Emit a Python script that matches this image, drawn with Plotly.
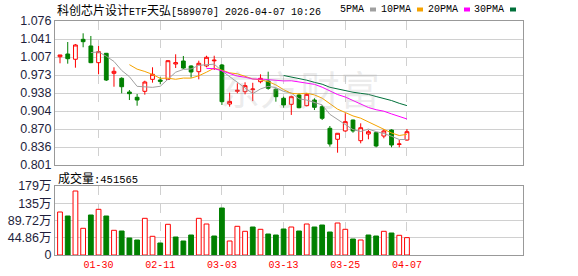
import numpy as np
import pandas as pd
import plotly.graph_objects as go

dates = ["2026-01-23", "2026-01-26", "2026-01-27", "2026-01-28", "2026-01-29", "2026-01-30",
         "2026-02-02", "2026-02-03", "2026-02-04", "2026-02-05", "2026-02-06", "2026-02-09",
         "2026-02-10", "2026-02-11", "2026-02-12", "2026-02-13", "2026-02-24", "2026-02-25",
         "2026-02-26", "2026-02-27", "2026-03-02", "2026-03-03", "2026-03-04", "2026-03-05",
         "2026-03-06", "2026-03-09", "2026-03-10", "2026-03-11", "2026-03-12", "2026-03-13",
         "2026-03-16", "2026-03-17", "2026-03-18", "2026-03-19", "2026-03-20", "2026-03-23",
         "2026-03-24", "2026-03-25", "2026-03-26", "2026-03-27", "2026-03-30", "2026-03-31",
         "2026-04-01", "2026-04-02", "2026-04-03", "2026-04-07"]

open_ = [1.0078, 1.0130, 1.0029, 1.0410, 1.0283, 0.9964, 1.0143, 0.9761, 0.9666, 0.9404,
         0.9303, 0.9417, 0.9646, 0.9633, 0.9646, 0.9939, 0.9996, 0.9901, 0.9792, 0.9901,
         0.9999, 0.9920, 0.9175, 0.9417, 0.9410, 0.9450, 0.9601, 0.9614, 0.9456, 0.9284,
         0.9169, 0.9347, 0.9143, 0.9251, 0.9124, 0.8711, 0.8501, 0.8660, 0.8869, 0.8474,
         0.8602, 0.8627, 0.8563, 0.8678, 0.8404, 0.8487]
high = [1.0111, 1.0359, 1.0321, 1.0525, 1.0474, 1.0283, 1.0150, 0.9876, 0.9685, 0.9442,
        0.9366, 0.9620, 0.9876, 0.9685, 1.0010, 1.0124, 1.0092, 0.9914, 1.0002, 1.0097,
        1.0097, 0.9939, 0.9391, 0.9570, 0.9589, 0.9580, 0.9742, 0.9792, 0.9475, 0.9315,
        0.9334, 0.9379, 0.9379, 0.9284, 0.9156, 0.8755, 0.8620, 0.8997, 0.8875, 0.8806,
        0.8678, 0.8633, 0.8692, 0.8692, 0.8487, 0.8698]
low = [0.9952, 0.9945, 0.9868, 1.0258, 0.9955, 0.9742, 0.9614, 0.9505, 0.9379, 0.9251,
       0.9142, 0.9353, 0.9582, 0.9551, 0.9640, 0.9862, 0.9843, 0.9677, 0.9646, 0.9876,
       0.9824, 0.9156, 0.9124, 0.9379, 0.9360, 0.9230, 0.9570, 0.9448, 0.9219, 0.9104,
       0.8966, 0.9093, 0.9130, 0.9060, 0.8869, 0.8360, 0.8245, 0.8646, 0.8627, 0.8424,
       0.8501, 0.8348, 0.8520, 0.8348, 0.8348, 0.8474]
close = [1.0111, 1.0040, 1.0302, 1.0365, 0.9964, 1.0174, 0.9633, 0.9799, 0.9505, 0.9372,
         0.9251, 0.9595, 0.9742, 0.9608, 1.0002, 0.9964, 0.9862, 0.9786, 0.9952, 1.0067,
         1.0011, 0.9219, 0.9225, 0.9436, 0.9525, 0.9460, 0.9665, 0.9475, 0.9315, 0.9156,
         0.9315, 0.9104, 0.9360, 0.9112, 0.8902, 0.8411, 0.8616, 0.8837, 0.8660, 0.8722,
         0.8646, 0.8373, 0.8660, 0.8392, 0.8411, 0.8646]
# volume in 万 (10k shares)
volume = [111.8, 101.4, 166.4, 69.4, 104.0, 118.8, 101.4, 64.2, 62.4, 44.2,
          39.0, 95.4, 48.6, 31.2, 79.8, 46.8, 36.4, 52.0, 95.4, 80.6,
          49.4, 122.2, 36.4, 74.6, 61.6, 72.8, 66.8, 54.6, 52.0, 67.6,
          72.8, 62.4, 80.6, 72.8, 78.0, 59.8, 83.2, 66.8, 41.6, 39.0,
          52.0, 49.4, 61.6, 57.2, 51.2, 45.1565]

price_ticks = ["0.801", "0.836", "0.870", "0.904", "0.938", "0.973", "1.007", "1.041", "1.076"]
vol_ticks = ["0", "44.86万", "89.72万", "135万", "179万"]
date_ticks = ["2026-01-30", "2026-02-11", "2026-03-03", "2026-03-13", "2026-03-25", "2026-04-07"]
date_labels = ["01-30", "02-11", "03-03", "03-13", "03-25", "04-07"]
ma_periods = [5, 10, 20, 30]
ma_colors = ["#a0a0a0", "#f5a300", "#ff00ff", "#00703a"]

RED = "#ff0000"
GREEN = "#008000"
W, H = 578, 276

cs = pd.Series(close)
prev = cs.shift(1).fillna(cs.iloc[0] - 1)
up = (cs >= prev).tolist()

fig = go.Figure()

fig.add_trace(go.Candlestick(
    x=dates, open=open_, high=high, low=low, close=close,
    increasing=dict(line=dict(color=RED, width=1), fillcolor="white"),
    decreasing=dict(line=dict(color=GREEN, width=1), fillcolor=GREEN),
    whiskerwidth=0, xaxis="x", yaxis="y", showlegend=False, hoverinfo="skip"))

for p, c in zip(ma_periods, ma_colors):
    ma = cs.rolling(p).mean()
    fig.add_trace(go.Scatter(x=dates, y=ma, mode="lines", line=dict(color=c, width=1),
                             xaxis="x", yaxis="y", showlegend=False, hoverinfo="skip"))

fig.add_trace(go.Bar(
    x=dates, y=volume, width=0.62,
    marker=dict(color=["white" if u else GREEN for u in up],
                line=dict(color=[RED if u else GREEN for u in up], width=1)),
    xaxis="x2", yaxis="y2", showlegend=False, hoverinfo="skip"))

x0, x1 = 55 / W, 523 / W
xr = [-0.65, 60.05]
grid = "#d0d0d0"
border = "#999999"
ax_common = dict(type="category", range=xr, domain=[x0, x1], tickvals=date_ticks,
                 showgrid=True, gridcolor=grid, griddash="dash", gridwidth=1,
                 showline=True, linecolor=border, linewidth=1, mirror=True,
                 ticks="", zeroline=False, automargin=False, fixedrange=True)

pmin, pmax = 0.801, 1.076
vmax = 44.86 * 4

fig.update_layout(
    template="none",
    width=W, height=H,
    margin=dict(l=0, r=0, t=0, b=0),
    paper_bgcolor="white", plot_bgcolor="white",
    showlegend=False,
    xaxis=dict(**ax_common, anchor="y", showticklabels=False, rangeslider=dict(visible=False)),
    xaxis2=dict(**ax_common, anchor="y2", showticklabels=True, ticktext=date_labels,
                tickfont=dict(family="Liberation Mono", size=10, color=RED)),
    yaxis=dict(domain=[1 - 165 / H, 1 - 21 / H], range=[pmin, pmax],
               tickvals=list(np.linspace(pmin, pmax, len(price_ticks))), ticktext=price_ticks,
               showgrid=True, gridcolor=grid, gridwidth=1, showline=True, linecolor=border,
               mirror=True, ticks="", zeroline=False, automargin=False, fixedrange=True,
               tickfont=dict(family="Liberation Sans", size=12.5, color="#1e1e3c")),
    yaxis2=dict(domain=[1 - 255 / H, 1 - 186 / H], range=[0, vmax],
                tickvals=list(np.linspace(0, vmax, len(vol_ticks))), ticktext=vol_ticks,
                showgrid=True, gridcolor=grid, gridwidth=1, showline=True, linecolor=border,
                mirror=True, ticks="", zeroline=False, automargin=False, fixedrange=True,
                tickfont=dict(family="Liberation Sans, Noto Sans CJK SC", size=12.5, color="#1e1e3c")),
)

cjk = 'style="font-family:Noto Sans CJK SC;font-size:12px"'
title = (f'<span {cjk}>科创芯片设计</span>ETF<span {cjk}>天弘</span>[589070] 2026-04-07 10:26')
annotations = [
    dict(x=55 / W, y=1 - 9 / H, xref="paper", yref="paper", xanchor="left", yanchor="middle",
         text=title, showarrow=False, font=dict(family="Liberation Mono", size=10, color="#000")),
    dict(x=56 / W, y=1 - 177 / H, xref="paper", yref="paper", xanchor="left", yanchor="middle",
         text=f'<span {cjk}>成交量</span>:451565', showarrow=False,
         font=dict(family="Liberation Mono", size=10.5, color="#000")),
    dict(x=300 / W, y=1 - 88 / H, xref="paper", yref="paper", xanchor="center", yanchor="middle",
         text="东方财富", showarrow=False,
         font=dict(family="Noto Sans CJK SC", size=40, color="rgba(170,170,170,0.22)")),
]
shapes = []
leg_x = [338, 379, 426, 472]
for (p, c, lx) in zip(ma_periods, ma_colors, leg_x):
    txt = f"{p}PMA"
    annotations.append(dict(x=lx / W, y=1 - 9 / H, xref="paper", yref="paper", xanchor="left",
                            yanchor="middle", text=txt, showarrow=False,
                            font=dict(family="Liberation Mono", size=10, color="#000")))
    sx = lx + len(txt) * 6 + 8
    shapes.append(dict(type="rect", xref="paper", yref="paper", x0=sx / W, x1=(sx + 6) / W,
                       y0=1 - 11.5 / H, y1=1 - 7.5 / H, fillcolor=c, line=dict(width=0)))
fig.update_layout(annotations=annotations, shapes=shapes)

fig.write_html("out.html", config={"displayModeBar": False})
